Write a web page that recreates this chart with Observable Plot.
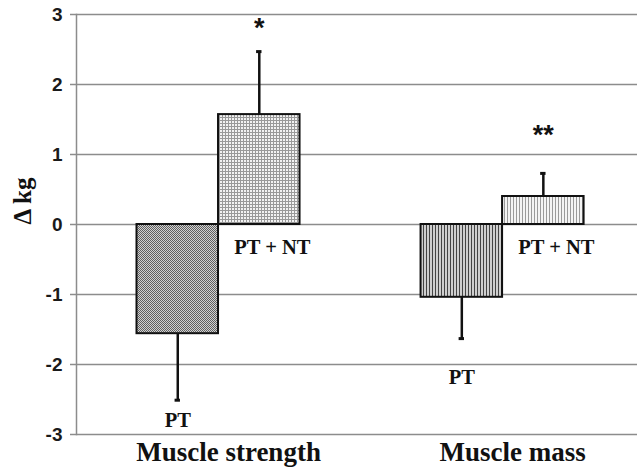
<!DOCTYPE html>
<html>
<head>
<meta charset="utf-8">
<script src="https://cdn.jsdelivr.net/npm/d3@7"></script>
<script src="https://cdn.jsdelivr.net/npm/@observablehq/plot@0.6"></script>
<style>
  html, body { margin: 0; padding: 0; background: #fff; }
</style>
</head>
<body>
<div id="chart"></div>
<script>
// ---- data ----
const categories = ["Muscle strength", "Muscle mass"];
const groups = ["PT", "PT + NT"];
const strengthMeans = [-1.56, 1.57];
const strengthSD = [0.95, 0.90];
const massMeans = [-1.04, 0.40];
const massSD = [0.59, 0.33];
const yTicks = [-3, -2, -1, 0, 1, 2, 3];
// annotations (data units)
const groupLabelY = [-2.8, -0.33, -2.19, -0.33];
const significance = ["", "*", "", "**"];
const significanceY = [null, 2.8, null, 1.27];

// layout of the grouped bars on the category axis (category units)
const barWidth = 0.287;
const capHalf = 0.0095;

const means = [strengthMeans, massMeans];
const sds = [strengthSD, massSD];
const rows = [];
categories.forEach((c, i) => groups.forEach((g, j) => {
  const k = i * 2 + j;
  const m = means[i][j];
  const x1 = i + (j - 1) * barWidth;
  rows.push({
    category: c, group: g, key: c + " | " + g,
    x1, x2: x1 + barWidth, cx: x1 + barWidth / 2,
    mean: m, end: m + Math.sign(m) * sds[i][j],
    labelY: groupLabelY[k], star: significance[k], starY: significanceY[k]
  });
}));
const keys = rows.map(d => d.key);
const patternIds = ["url(#pat-checker)", "url(#pat-grid)", "url(#pat-stripe-dark)", "url(#pat-stripe-light)"];

const serif = "'Liberation Serif', 'Times New Roman', serif";
const sans = "'Liberation Sans', Arial, sans-serif";
const gray = "#8c8c8c";

const svg = Plot.plot({
  width: 637,
  height: 472,
  marginLeft: 76,
  marginRight: 0,
  marginTop: 14,
  marginBottom: 38,
  style: { background: "#fff", overflow: "visible" },
  x: { domain: [-0.5, 1.475], axis: null },
  y: { domain: [-3, 3], axis: null },
  color: { domain: keys, range: patternIds },
  marks: [
    Plot.ruleY(yTicks, { stroke: gray, strokeWidth: 1.5 }),
    Plot.frame({ anchor: "left", stroke: gray, strokeWidth: 1.5 }),
    Plot.axisY(yTicks, { tickSize: 6, tickPadding: 8, tickFormat: d => String(d), stroke: gray, strokeWidth: 1.5, label: null,
      fontSize: 19, fontWeight: "bold", fontFamily: sans, fill: "#1a1a1a" }),
    Plot.text(["\u0394 kg"], { frameAnchor: "left", rotate: -90, dx: -54, dy: 0,
      fontSize: 25, fontWeight: "bold", fontFamily: serif, fill: "#111" }),
    Plot.rectY(rows, { x1: "x1", x2: "x2", y: "mean", fill: "key", stroke: "#111", strokeWidth: 2 }),
    Plot.ruleX(rows, { x: "cx", y1: "mean", y2: "end", stroke: "#111", strokeWidth: 2.5 }),
    Plot.ruleY(rows, { y: "end", x1: d => d.cx - capHalf, x2: d => d.cx + capHalf, stroke: "#111", strokeWidth: 3 }),
    Plot.text(rows.filter(d => d.group === "PT"), { x: "cx", y: "labelY", text: "group",
      fontSize: 20.5, fontWeight: "bold", fontFamily: serif, fill: "#111" }),
    Plot.text(rows.filter(d => d.group === "PT + NT"), { x: "cx", y: "labelY", text: "group", dx: 13,
      fontSize: 20.5, fontWeight: "bold", fontFamily: serif, fill: "#111" }),
    Plot.text(rows.filter(d => d.star), { x: "cx", y: "starY", text: "star",
      fontSize: 27, fontWeight: "bold", fontFamily: sans, fill: "#111" }),
    Plot.axisX({ ticks: [0, 1], tickFormat: i => categories[i], anchor: "bottom", tickSize: 0, tickPadding: 7, label: null, dx: 10,
      fontSize: 27, fontWeight: "bold", fontFamily: serif, fill: "#111" })
  ]
});

svg.insertAdjacentHTML("afterbegin", `
<defs>
  <pattern id="pat-checker" width="2" height="2" patternUnits="userSpaceOnUse">
    <rect width="2" height="2" fill="#d2d2d2"/>
    <rect width="1" height="1" fill="#606060"/>
    <rect x="1" y="1" width="1" height="1" fill="#606060"/>
  </pattern>
  <pattern id="pat-grid" width="3" height="3" patternUnits="userSpaceOnUse">
    <rect width="3" height="3" fill="#f2f2f2"/>
    <rect width="3" height="1" fill="#999"/>
    <rect width="1" height="3" fill="#999"/>
  </pattern>
  <pattern id="pat-stripe-dark" width="3" height="3" patternUnits="userSpaceOnUse">
    <rect width="3" height="3" fill="#cfcfcf"/>
    <rect width="1" height="3" fill="#444"/>
  </pattern>
  <pattern id="pat-stripe-light" width="3" height="3" patternUnits="userSpaceOnUse">
    <rect width="3" height="3" fill="#f4f4f4"/>
    <rect width="1" height="3" fill="#9a9a9a"/>
  </pattern>
</defs>`);

document.getElementById("chart").appendChild(svg);
</script>
</body>
</html>
